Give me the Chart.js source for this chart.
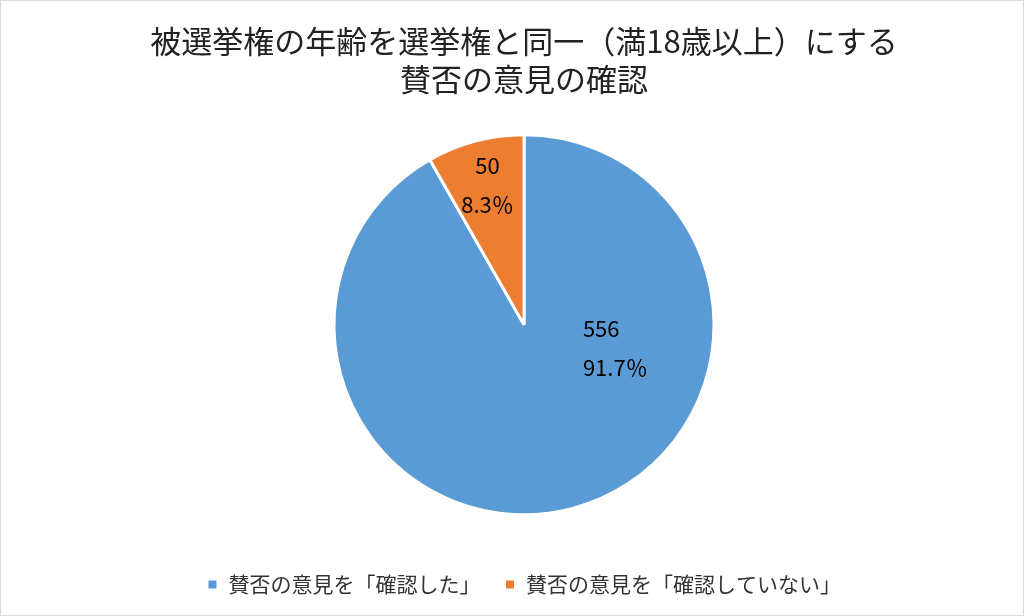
<!DOCTYPE html>
<html><head><meta charset="utf-8">
<script src="https://cdn.jsdelivr.net/npm/chart.js@4/dist/chart.umd.min.js"></script>
<style>html,body{margin:0;padding:0;background:#fff}#w{width:1022px;height:614px;border:1px solid #d9d9d9}</style>
</head><body><div id="w"><canvas id="c"></canvas></div>
<script>
const categories = ["賛否の意見を「確認した」", "賛否の意見を「確認していない」"];
const values = [556, 50];
const percents = ["91.7％", "8.3％"];
const colors = ["#5b9bd5", "#ed7d31"];
const titleLines = ["被選挙権の年齢を選挙権と同一（満18歳以上）にする", "賛否の意見の確認"];
const FONT = "'Noto Sans CJK JP','Noto Sans',sans-serif";

const labelPlugin = {
  id: 'lbl',
  afterDatasetsDraw(chart) {
    const ctx = chart.ctx;
    const meta = chart.getDatasetMeta(0);
    ctx.save();
    ctx.font = "22px " + FONT;
    ctx.fillStyle = "#000";
    ctx.textBaseline = "middle";
    meta.data.forEach((arc, i) => {
      let x, y;
      const r = arc.outerRadius;
      if (i === 0) { x = arc.x + 0.31 * r; y = arc.y + 0.12 * r; ctx.textAlign = "left"; }
      else {
        const a = (arc.startAngle + arc.endAngle) / 2;
        x = arc.x + Math.cos(a) * 0.75 * r; y = arc.y + Math.sin(a) * 0.76 * r; ctx.textAlign = "center";
      }
      ctx.fillText(String(values[i]), x, y - 19);
      ctx.fillText(percents[i], x, y + 20);
    });
    ctx.restore();
  }
};

new Chart(document.getElementById('c'), {
  type: 'pie',
  data: { labels: categories, datasets: [{ data: values, backgroundColor: colors, borderColor: "#fff", borderWidth: 3, radius: 190 }] },
  options: {
    responsive: true, maintainAspectRatio: false, animation: false,
    layout: { padding: { top: 10, bottom: 10, left: 24 } },
    plugins: {
      title: { display: true, text: titleLines, color: "#222", font: { family: FONT, size: 31, weight: 'normal' }, padding: { top: 12, bottom: 2 }, lineHeight: 1.75 },
      legend: { position: 'bottom', labels: { font: { family: FONT, size: 21 }, color: "#333", boxWidth: 11, boxHeight: 11, padding: 24 } },
      tooltip: { enabled: false }
    }
  },
  plugins: [labelPlugin]
});
</script></body></html>
